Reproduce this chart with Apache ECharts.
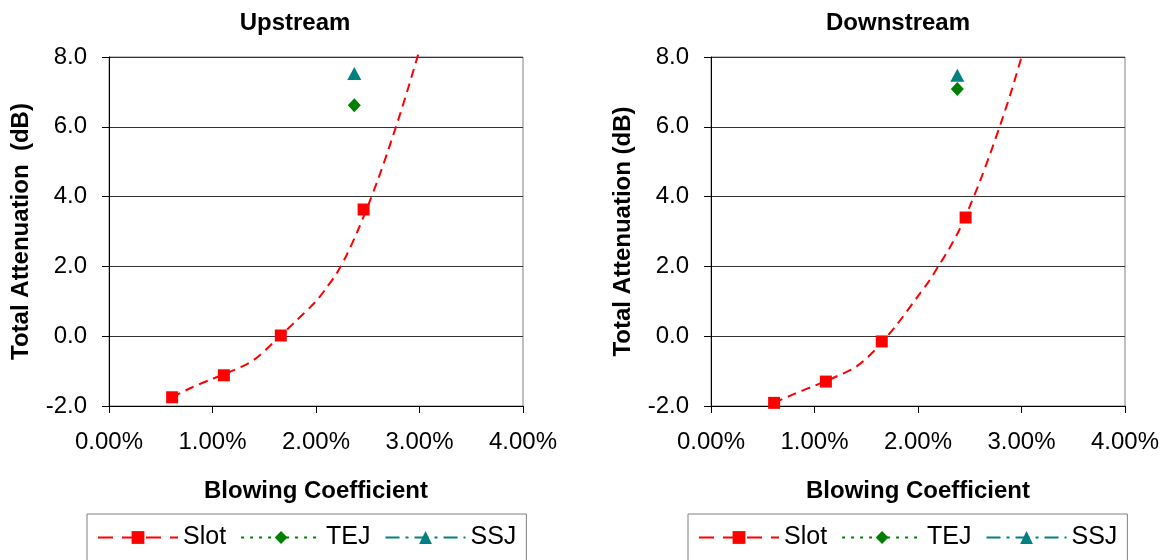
<!DOCTYPE html>
<html>
<head>
<meta charset="utf-8">
<script src="https://cdn.jsdelivr.net/npm/echarts@6/dist/echarts.min.js"></script>
<style>
  html, body { margin: 0; padding: 0; background: #fff; }
  #chart { width: 1166px; height: 560px; }
</style>
</head>
<body>
<div id="chart"></div>
<script>
// values, x in percent, y in dB
const upSlot = [[0.61, -1.75], [1.11, -1.12], [1.66, 0.02], [2.46, 3.63]]
const upSlotTrend = [[0.61, -1.75], [0.8, -1.47], [1.0, -1.22], [1.2, -0.98], [1.4, -0.68], [1.6, -0.15],
  [1.8, 0.42], [2.0, 1.0], [2.1, 1.38], [2.2, 1.8], [2.3, 2.35], [2.4, 3.0], [2.5, 3.72], [2.6, 4.5],
  [2.7, 5.35], [2.8, 6.25], [2.9, 7.2], [3.0, 8.2]]
const upTej = [[2.37, 6.62]]
const upSsj = [[2.37, 7.53]]

const downSlot = [[0.61, -1.91], [1.11, -1.3], [1.65, -0.15], [2.46, 3.4]]
const downSlotTrend = [[0.61, -1.91], [0.8, -1.66], [1.0, -1.42], [1.2, -1.17], [1.4, -0.88], [1.6, -0.35],
  [1.8, 0.35], [2.0, 1.15], [2.1, 1.55], [2.2, 2.02], [2.3, 2.5], [2.4, 3.05], [2.5, 3.72], [2.6, 4.45],
  [2.7, 5.25], [2.8, 6.1], [2.9, 7.0], [3.0, 8.0]]
const downTej = [[2.38, 7.08]]
const downSsj = [[2.38, 7.48]]

const titles = ['Upstream', 'Downstream']
const yNames = ['Total Attenuation  (dB)', 'Total Attenuation (dB)']
const xName = 'Blowing Coefficient'

const RED = '#ff0000', GREEN = '#008000', TEAL = '#008080'
const font = 'Liberation Sans, Arial, sans-serif'

const grids = [
  { left: 109, top: 57, width: 414, height: 349 },
  { left: 711, top: 57, width: 414, height: 349 }
]

const xAxisFor = (i) => ({
  type: 'value', gridIndex: i, min: 0, max: 4, interval: 1,
  name: xName, nameLocation: 'middle', nameGap: 73,
  nameTextStyle: { fontSize: 24, fontWeight: 'bold', color: '#000' },
  axisLine: { show: true, onZero: false, lineStyle: { color: '#000', width: 1 } },
  axisTick: { show: true, inside: false, length: 7, lineStyle: { color: '#000' } },
  axisLabel: { fontSize: 24, color: '#000', margin: 24, formatter: v => v.toFixed(2) + '%' },
  splitLine: { show: false }
})

const yAxisFor = (i) => ({
  type: 'value', gridIndex: i, min: -2, max: 8, interval: 2,
  name: yNames[i], nameLocation: 'middle', nameGap: 76, nameRotate: 90,
  nameTextStyle: { fontSize: 24, fontWeight: 'bold', color: '#000' },
  axisLine: { show: true, onZero: false, lineStyle: { color: '#000', width: 1 } },
  axisTick: { show: true, inside: false, length: 7, lineStyle: { color: '#000' } },
  axisLabel: { fontSize: 24, color: '#000', margin: 22, formatter: v => v.toFixed(1) },
  splitLine: { show: true, lineStyle: { color: '#333', width: 1 } }
})

const seriesFor = (i, slot, trend, tej, ssj) => [
  {
    name: 'Slot', type: 'line', xAxisIndex: i, yAxisIndex: i, data: trend,
    symbol: 'rect', symbolSize: 12, showSymbol: false, clip: false, smooth: 0.3,
    itemStyle: { color: RED },
    lineStyle: { color: RED, width: 2, type: [9, 6] },
    silent: true, z: 2
  },
  {
    name: 'Slot points', type: 'scatter', xAxisIndex: i, yAxisIndex: i, data: slot,
    symbol: 'rect', symbolSize: 12, itemStyle: { color: RED, opacity: 1 }, z: 3
  },
  {
    name: 'TEJ', type: 'line', xAxisIndex: i, yAxisIndex: i, data: tej,
    symbol: 'diamond', symbolSize: [13, 14], showSymbol: true,
    itemStyle: { color: GREEN, opacity: 1 }, lineStyle: { color: GREEN, width: 2, type: 'dotted' }, z: 3
  },
  {
    name: 'SSJ', type: 'line', xAxisIndex: i, yAxisIndex: i, data: ssj,
    symbol: 'triangle', symbolSize: [14, 13], showSymbol: true,
    itemStyle: { color: TEAL, opacity: 1 }, lineStyle: { color: TEAL, width: 2, type: [12, 5, 3, 5] }, z: 3
  }
]

const legendFor = (left) => ({
  left: left, top: 514, orient: 'horizontal',
  itemWidth: 80, itemHeight: 16, itemGap: 14,
  padding: [11, 10, 30, 10],
  borderColor: '#808080', borderWidth: 1,
  textStyle: { fontSize: 25, color: '#000', fontFamily: font },
  selectedMode: false,
  data: [
    { name: 'Slot', lineStyle: { type: [15, 9], width: 2 } },
    { name: 'TEJ', lineStyle: { type: [3, 6], width: 2 } },
    { name: 'SSJ', lineStyle: { type: [14, 6, 3, 6], width: 2 } }
  ]
})

const chart = echarts.init(document.getElementById('chart'))
chart.setOption({
  animation: false,
  backgroundColor: '#fff',
  textStyle: { fontFamily: font },
  title: [
    { text: titles[0], left: 290, top: 6, textAlign: 'center', textStyle: { fontSize: 24, fontWeight: 'bold', color: '#000' } },
    { text: titles[1], left: 893, top: 6, textAlign: 'center', textStyle: { fontSize: 24, fontWeight: 'bold', color: '#000' } }
  ],
  grid: grids.map(g => Object.assign({ show: true, borderColor: '#808080', borderWidth: 1, backgroundColor: '#fff' }, g)),
  xAxis: [xAxisFor(0), xAxisFor(1)],
  yAxis: [yAxisFor(0), yAxisFor(1)],
  legend: [legendFor(87), legendFor(688)],
  series: [
    ...seriesFor(0, upSlot, upSlotTrend, upTej, upSsj),
    ...seriesFor(1, downSlot, downSlotTrend, downTej, downSsj)
  ]
})
</script>
</body>
</html>
